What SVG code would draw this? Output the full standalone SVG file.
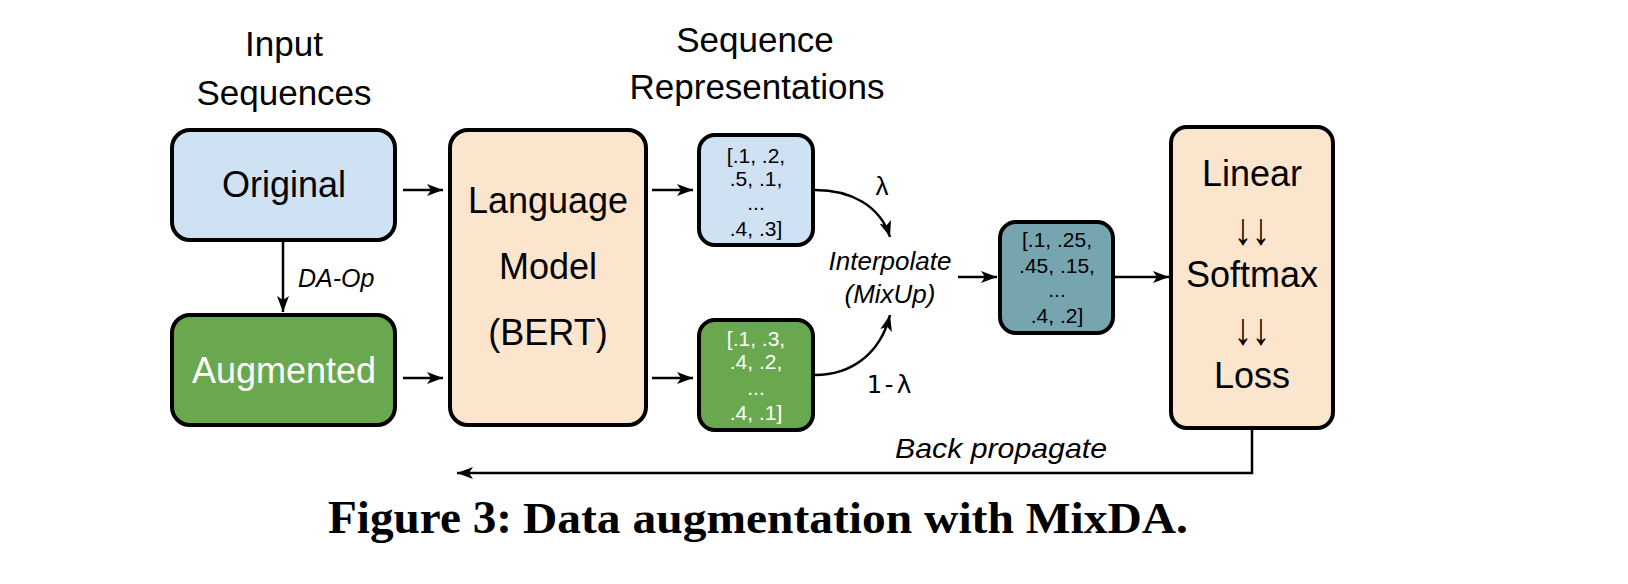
<svg xmlns="http://www.w3.org/2000/svg" width="1628" height="584" viewBox="0 0 1628 584">
<style>
.t{font-family:"Liberation Sans",Arial,sans-serif;fill:#000;text-anchor:middle}
.big{font-size:36px}
.hd{font-size:35px}
.vec{font-size:21px}
.it{font-style:italic}
.box{stroke:#000;stroke-width:4}
.blue{fill:#cfe2f3}
.green{fill:#6aa84f}
.peach{fill:#fce5cd}
.teal{fill:#76a5af}
.wl{fill:#fff}
.c{fill:none;stroke:#000;stroke-width:2.5}
.cap{font-family:"Liberation Serif","Times New Roman",serif;font-weight:bold;fill:#000}
</style>
<defs>
<marker id="ah" markerUnits="userSpaceOnUse" markerWidth="18" markerHeight="14" viewBox="0 0 18 14" refX="16" refY="7" orient="auto">
<path d="M0,1 L16,7 L0,13 L4,7 Z" fill="#000"/>
</marker>
</defs>
<rect width="1628" height="584" fill="#fff"/>

<g id="headings">
<text class="t hd" x="284" y="56">Input</text>
<text class="t hd" x="284" y="105">Sequences</text>
<text class="t hd" x="755" y="52">Sequence</text>
<text class="t hd" x="757" y="99">Representations</text>
</g>

<g id="original">
<rect class="box blue" x="172" y="130" width="223" height="110" rx="18"/>
<text class="t big" x="284" y="197">Original</text>
</g>

<g id="augmented">
<rect class="box green" x="172" y="315" width="223" height="110" rx="18"/>
<text class="t big wl" x="284" y="383">Augmented</text>
</g>

<g id="language-model">
<rect class="box peach" x="450" y="130" width="196" height="295" rx="18"/>
<text class="t big" x="548" y="213">Language</text>
<text class="t big" x="548" y="279">Model</text>
<text class="t big" x="548" y="345">(BERT)</text>
</g>

<g id="rep-original">
<rect class="box blue" x="699" y="135" width="114" height="110" rx="16"/>
<text class="t vec" x="756" y="163">[.1, .2,</text>
<text class="t vec" x="756" y="186">.5, .1,</text>
<text class="t vec" x="756" y="210">...</text>
<text class="t vec" x="756" y="236">.4, .3]</text>
</g>

<g id="rep-augmented">
<rect class="box green" x="699" y="320" width="114" height="110" rx="16"/>
<text class="t vec wl" x="756" y="346">[.1, .3,</text>
<text class="t vec wl" x="756" y="369">.4, .2,</text>
<text class="t vec wl" x="756" y="395">...</text>
<text class="t vec wl" x="756" y="420">.4, .1]</text>
</g>

<g id="interpolate">
<text class="t it" style="font-size:26px" x="890" y="270">Interpolate</text>
<text class="t it" style="font-size:26px" x="890" y="303">(MixUp)</text>
</g>

<g id="mixed">
<rect class="box teal" x="1000" y="222" width="113" height="111" rx="16"/>
<text class="t vec" x="1057" y="247">[.1, .25,</text>
<text class="t vec" x="1057" y="273">.45, .15,</text>
<text class="t vec" x="1057" y="297">...</text>
<text class="t vec" x="1057" y="323">.4, .2]</text>
</g>

<g id="classifier">
<rect class="box peach" x="1171" y="127" width="162" height="301" rx="16"/>
<text class="t big" x="1252" y="186">Linear</text>
<text class="t big" transform="translate(1252,244) scale(1,1.25)" x="0" y="0">↓↓</text>
<text class="t big" x="1252" y="287">Softmax</text>
<text class="t big" transform="translate(1252,344) scale(1,1.25)" x="0" y="0">↓↓</text>
<text class="t big" x="1252" y="388">Loss</text>
</g>

<g id="connectors">
<line class="c" x1="403" y1="190" x2="443" y2="190" marker-end="url(#ah)"/>
<line class="c" x1="403" y1="378" x2="443" y2="378" marker-end="url(#ah)"/>
<line class="c" x1="283" y1="242" x2="283" y2="312" marker-end="url(#ah)"/>
<line class="c" x1="652" y1="190" x2="693" y2="190" marker-end="url(#ah)"/>
<line class="c" x1="652" y1="378" x2="693" y2="378" marker-end="url(#ah)"/>
<path class="c" d="M815,190 C850,190 880,205 890,237" marker-end="url(#ah)"/>
<path class="c" d="M815,375 C850,375 880,355 890,315" marker-end="url(#ah)"/>
<line class="c" x1="958" y1="277" x2="997" y2="277" marker-end="url(#ah)"/>
<line class="c" x1="1115" y1="277" x2="1169" y2="277" marker-end="url(#ah)"/>
<polyline class="c" points="1252,430 1252,473 457,473" marker-end="url(#ah)"/>
<text class="t it" style="font-size:25px;text-anchor:start" x="298" y="287">DA-Op</text>
<text class="t" style="font-size:26px" x="882" y="195">λ</text>
<text style="font-family:'DejaVu Sans Mono',monospace;font-size:25px;text-anchor:middle" x="889" y="393">1-λ</text>
<text class="t it" style="font-size:28px;text-anchor:start" x="895" y="458" textLength="212" lengthAdjust="spacingAndGlyphs">Back propagate</text>
</g>

<g id="caption">
<text class="cap" style="font-size:46px" x="328" y="533" textLength="184" lengthAdjust="spacingAndGlyphs">Figure 3:</text>
<text class="cap" style="font-size:44px" x="523" y="533" textLength="665" lengthAdjust="spacingAndGlyphs">Data augmentation with MixDA.</text>
</g>
</svg>
